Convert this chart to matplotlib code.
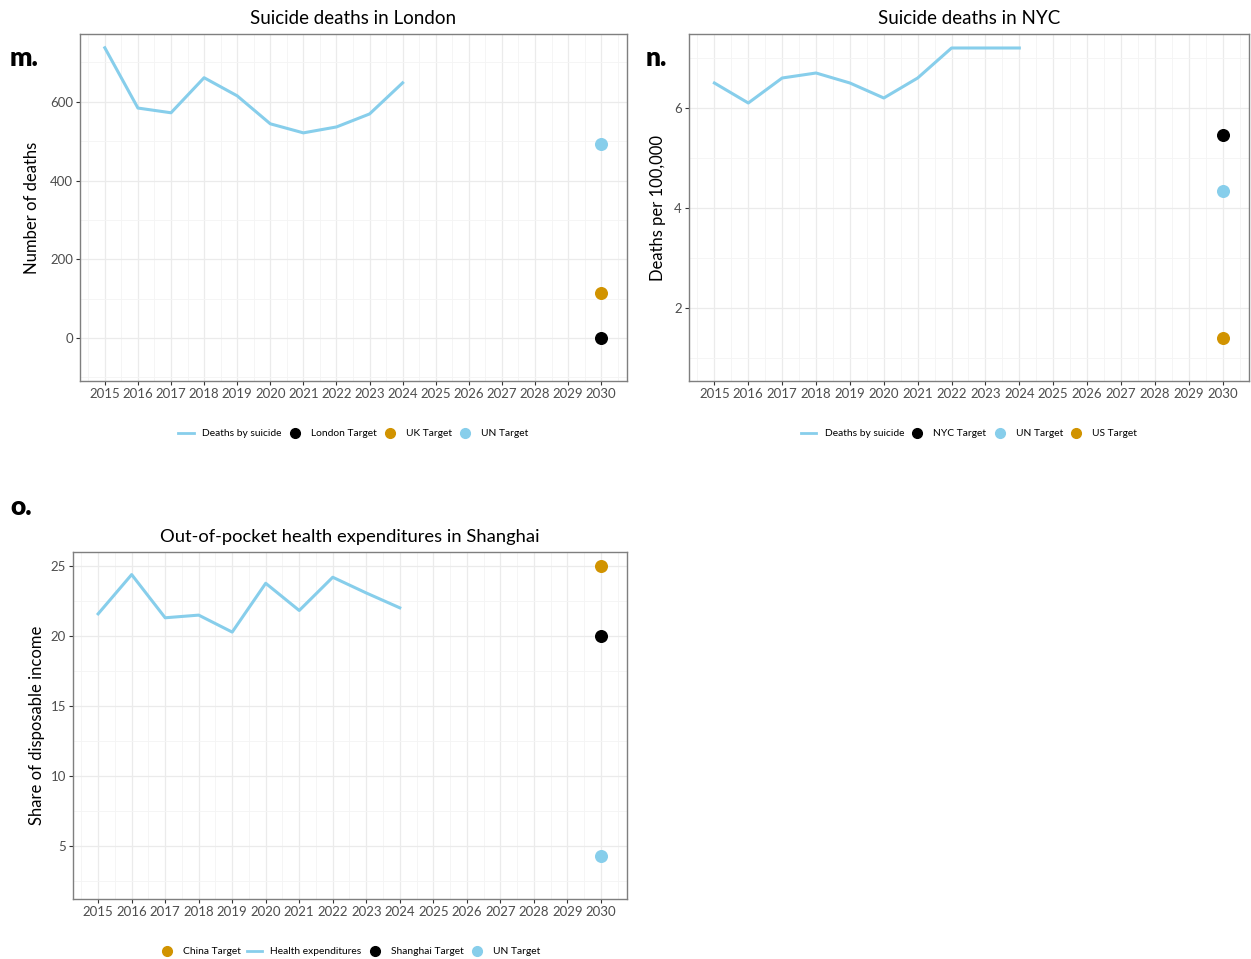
import matplotlib
matplotlib.use("Agg")
import matplotlib.pyplot as plt
from matplotlib.lines import Line2D
import numpy as np

plt.rcParams['font.family'] = ['Lato', 'DejaVu Sans']

years = list(range(2015, 2025))
target_year = 2030

london_deaths = [737, 584, 572, 661, 615, 544, 521, 536, 569, 648]
london_targets = {"London Target": 0, "UK Target": 115, "UN Target": 492}

nyc_rate = [6.5, 6.1, 6.6, 6.7, 6.5, 6.2, 6.6, 7.2, 7.2, 7.2]
nyc_targets = {"NYC Target": 5.47, "UN Target": 4.34, "US Target": 1.4}

sh_oop = [21.56, 24.36, 21.28, 21.47, 20.26, 23.74, 21.8, 24.17, 23.05, 21.99]
sh_targets = {"China Target": 25, "Shanghai Target": 20, "UN Target": 4.3}

BLUE = "#87CEEB"
GOLD = "#D19300"
BLACK = "#000000"
target_colors = {"London Target": BLACK, "UK Target": GOLD, "UN Target": BLUE,
                 "NYC Target": BLACK, "US Target": GOLD,
                 "China Target": GOLD, "Shanghai Target": BLACK}

W, H = 1251, 959
fig = plt.figure(figsize=(W / 100, H / 100), dpi=100)


def ax_at(l, r, t, b):
    return fig.add_axes([l / W, 1 - b / H, (r - l) / W, (b - t) / H])


def style(ax, ylim, yticks, yminor):
    ax.set_xlim(2014.25, 2030.78)
    ax.set_ylim(*ylim)
    ax.set_xticks(range(2015, 2031))
    ax.set_xticks(np.arange(2014.5, 2031, 1.0), minor=True)
    ax.set_yticks(yticks)
    ax.set_yticks(yminor, minor=True)
    ax.grid(True, which='major', color='#ebebeb', lw=0.9)
    ax.grid(True, which='minor', color='#f4f4f4', lw=0.6)
    ax.set_axisbelow(True)
    for s in ax.spines.values():
        s.set_color('#7f7f7f')
        s.set_linewidth(1.0)
    ax.tick_params(which='major', length=3, color='#333333', labelsize=9.5,
                   labelcolor='#4d4d4d', pad=2)
    ax.tick_params(which='minor', length=0)


def legend(ax, entries, y):
    handles = []
    labels = []
    for kind, lab, col in entries:
        if kind == 'line':
            handles.append(Line2D([], [], color=col, lw=2))
        else:
            handles.append(Line2D([], [], color=col, marker='o', ls='', ms=7))
        labels.append(lab)
    ax.legend(handles, labels, loc='center', bbox_to_anchor=(0.5, y), ncol=len(entries),
              frameon=False, fontsize=7.4, handlelength=1.5, handletextpad=0.8,
              columnspacing=0.55)


# London
ax1 = ax_at(80, 627, 34, 381)
style(ax1, (-109, 772), [0, 200, 400, 600], [-100, 100, 300, 500, 700])
ax1.plot(years, london_deaths, color=BLUE, lw=2.2)
for k, v in london_targets.items():
    ax1.scatter([target_year], [v], color=target_colors[k], s=70, zorder=3)
ax1.set_title("Suicide deaths in London", fontsize=13.5, pad=7)
ax1.set_ylabel("Number of deaths", fontsize=12, labelpad=7)
legend(ax1, [('line', 'Deaths by suicide', BLUE), ('pt', 'London Target', BLACK),
             ('pt', 'UK Target', GOLD), ('pt', 'UN Target', BLUE)], -0.152)
fig.text(10 / W, 1 - 58 / H, "m.", fontsize=19, fontweight='heavy', va='center', ha='left')

# NYC
ax2 = ax_at(689, 1249, 34, 381)
style(ax2, (0.54, 7.48), [2, 4, 6], [1, 3, 5, 7])
ax2.plot(years, nyc_rate, color=BLUE, lw=2.2)
for k, v in nyc_targets.items():
    ax2.scatter([target_year], [v], color=target_colors[k], s=70, zorder=3)
ax2.set_title("Suicide deaths in NYC", fontsize=13.5, pad=7)
ax2.set_ylabel("Deaths per 100,000", fontsize=12, labelpad=6)
legend(ax2, [('line', 'Deaths by suicide', BLUE), ('pt', 'NYC Target', BLACK),
             ('pt', 'UN Target', BLUE), ('pt', 'US Target', GOLD)], -0.152)
fig.text(646 / W, 1 - 58 / H, "n.", fontsize=19, fontweight='heavy', va='center', ha='left')

# Shanghai
ax3 = ax_at(73, 627, 552, 899)
style(ax3, (1.23, 25.97), [5, 10, 15, 20, 25], [2.5, 7.5, 12.5, 17.5, 22.5])
ax3.plot(years, sh_oop, color=BLUE, lw=2.2)
for k, v in sh_targets.items():
    ax3.scatter([target_year], [v], color=target_colors[k], s=70, zorder=3)
ax3.set_title("Out-of-pocket health expenditures in Shanghai", fontsize=13.2, pad=7)
ax3.set_ylabel("Share of disposable income", fontsize=12, labelpad=4)
legend(ax3, [('pt', 'China Target', GOLD), ('line', 'Health expenditures', BLUE),
             ('pt', 'Shanghai Target', BLACK), ('pt', 'UN Target', BLUE)], -0.152)
fig.text(10 / W, 1 - 507 / H, "o.", fontsize=19, fontweight='heavy', va='center', ha='left')

fig.savefig("out.png", dpi=100, facecolor='white')
